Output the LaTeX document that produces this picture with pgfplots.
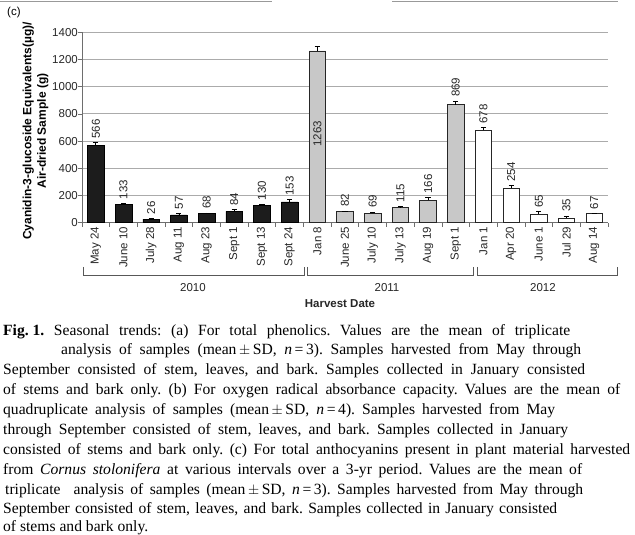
\documentclass[border=0pt]{standalone}
\usepackage{pgfplots}
\pgfplotsset{compat=1.18}
\usepackage{pgfplotstable}
\usepackage{fontspec}
\setmainfont{Liberation Serif}
\setsansfont{Liberation Sans}

\definecolor{barblack}{HTML}{1C1C1C}
\definecolor{bargray}{HTML}{C8C8C8}
\definecolor{gridgray}{HTML}{ABABAB}
\definecolor{axgray}{HTML}{6E6E6E}

\pgfplotstableread{
x y err
0 566 22
1 133 8
2 26 5
3 57 12
4 68 4
5 84 12
6 130 6
7 153 15
}\blackdata
\pgfplotstableread{
x y err
8 1263 30
9 82 5
10 69 10
11 115 4
12 166 18
13 869 25
}\graydata
\pgfplotstableread{
x y err
14 678 20
15 254 18
16 65 15
17 35 14
18 67 0
}\whitedata
% label positions (value + error)
\pgfplotstableread{
x y lab
0 588 566
1 141 133
2 31 26
3 69 57
4 72 68
5 96 84
6 136 130
7 168 153
9 87 82
10 79 69
11 119 115
12 184 166
13 894 869
14 698 678
15 272 254
16 80 65
17 49 35
18 67 67
}\labdata

\newcommand{\lblfont}{\fontsize{11.5bp}{13bp}\selectfont\sffamily}
\newcommand{\capline}[4]{\node[anchor=base west, inner sep=0pt] at (#1,#2) {\makebox[#3bp][s]{#4}};}

\begin{document}
\frenchspacing
\begin{tikzpicture}
\useasboundingbox (0,0) rectangle (635bp,535bp);
\begin{axis}[
  at={(82bp,312.3bp)}, anchor=south west,
  scale only axis, width=526bp, height=190.4bp,
  xmin=-0.5, xmax=18.5, ymin=0, ymax=1400,
  axis x line*=bottom, axis y line*=left,
  axis line style={-, axgray, line width=0.8pt},
  ymajorgrids, major y grid style={gridgray, line width=0.9pt},
  ytick={0,200,...,1400},
  tick align=outside,
  major tick length=4bp, minor tick length=4bp,
  major y tick style={axgray, line width=0.7pt},
  xtick={0,...,18},
  major x tick style={draw=none},
  minor xtick={-0.5,0.5,...,18.5},
  minor x tick style={axgray, line width=0.7pt},
  xticklabels={May 24, June 10, July 28, Aug 11, Aug 23, Sept 1, Sept 13, Sept 24, Jan 8, June 25, July 10, July 13, Aug 19, Sept 1, Jan 1, Apr 20, June 1, Jul 29, Aug 14},
  xticklabel style={rotate=90, anchor=east, inner xsep=0pt, inner ysep=0pt, font=\lblfont, black!85},
  yticklabel style={anchor=east, inner sep=0pt, font=\lblfont, black!85},
  /pgf/number format/assume math mode=true,
  /pgf/number format/1000 sep={},
  scaled y ticks=false,
  clip=false,
  error bars/error bar style={black, line width=0.7pt},
  error bars/error mark options={rotate=90, mark size=2.6bp, black, line width=0.7pt},
]
\addplot[ybar, bar width=0.6, bar shift=0pt, fill=barblack, draw=black, line width=0.6pt,
  error bars/.cd, y dir=plus, y explicit]
  table[x=x, y=y, y error=err] {\blackdata};
\addplot[ybar, bar width=0.6, bar shift=0pt, fill=bargray, draw=black!85, line width=0.6pt,
  error bars/.cd, y dir=plus, y explicit]
  table[x=x, y=y, y error=err] {\graydata};
\addplot[ybar, bar width=0.6, bar shift=0pt, fill=white, draw=black!85, line width=0.6pt,
  error bars/.cd, y dir=plus, y explicit]
  table[x=x, y=y, y error=err] {\whitedata};
\addplot[draw=none, mark=none, nodes near coords, point meta=explicit symbolic,
  nodes near coords style={rotate=90, anchor=west, inner xsep=4bp, inner ysep=0pt, font=\lblfont, black!85}]
  table[x=x, y=y, meta=lab] {\labdata};
\addplot[draw=none, mark=none, nodes near coords, point meta=explicit symbolic,
  nodes near coords style={rotate=90, anchor=center, inner sep=0pt, font=\lblfont, black!85}]
  coordinates {(8,654) [1263]};
\end{axis}

\begin{scope}[x=1bp, y=-1bp, shift={(0,535bp)}]
  % scan decoration lines
  \draw[gray!80, line width=0.8pt] (0,1.2) -- (272,1.2);
  \draw[gray!80, line width=0.8pt] (392,1.2) -- (618,1.2);
  \node[anchor=west, inner sep=0pt, font=\lblfont] at (7,13) {(c)};
  % y label
  \node[rotate=90, align=center, inner sep=0pt, font=\fontsize{12bp}{14.5bp}\selectfont\sffamily\bfseries] at (35.5,131)
    {Cyanidin-3-glucoside Equivalents(µg)/\\Air-dried Sample (g)};
  % brackets
  \draw[axgray!80!black, line width=0.9pt] (83,267) -- (83,275) -- (304,275) -- (304,267);
  \draw[axgray!80!black, line width=0.9pt] (307,267) -- (307,275) -- (473,275) -- (473,267);
  \draw[axgray!80!black, line width=0.9pt] (477,267) -- (477,275) -- (617,275) -- (617,267);
  \node[font=\lblfont, black!85] at (193,288) {2010};
  \node[font=\lblfont, black!85] at (387,288) {2011};
  \node[font=\lblfont, black!85] at (543,288) {2012};
  \node[font=\fontsize{11.5bp}{13bp}\selectfont\sffamily\bfseries, black!85] at (340,304) {Harvest Date};
  % caption
  \begingroup
  \fontsize{15.6bp}{20bp}\selectfont
  \capline{3}{336}{567}{\mbox{\textbf{Fig. 1.}} Seasonal trends: (a) For total phenolics. Values are the mean of triplicate}
  \capline{61}{355}{520}{analysis of samples (mean\,$\pm$\,SD, \textit{n}\,=\,3). Samples harvested from May through}
  \capline{3}{374.5}{582}{September consisted of stem, leaves, and bark. Samples collected in January consisted}
  \capline{3}{394.5}{617}{of stems and bark only. (b) For oxygen radical absorbance capacity. Values are the mean of}
  \capline{3}{414.5}{552}{quadruplicate analysis of samples (mean\,$\pm$\,SD, \textit{n}\,=\,4). Samples harvested from May}
  \capline{3}{434.5}{565}{through September consisted of stem, leaves, and bark. Samples collected in January}
  \capline{3}{454.5}{627}{consisted of stems and bark only. (c) For total anthocyanins present in plant material harvested}
  \capline{3}{474.5}{579}{from \textit{Cornus stolonifera} at various intervals over a 3-yr period. Values are the mean of}
  \capline{5}{494.5}{578}{triplicate\ \ analysis of samples (mean\,$\pm$\,SD, \textit{n}\,=\,3). Samples harvested from May through}
  \capline{3}{514}{554}{September consisted of stem, leaves, and bark. Samples collected in January consisted}
  \node[anchor=base west, inner sep=0pt] at (3,531.5) {of stems and bark only.};
  \endgroup
\end{scope}
\end{tikzpicture}
\end{document}
